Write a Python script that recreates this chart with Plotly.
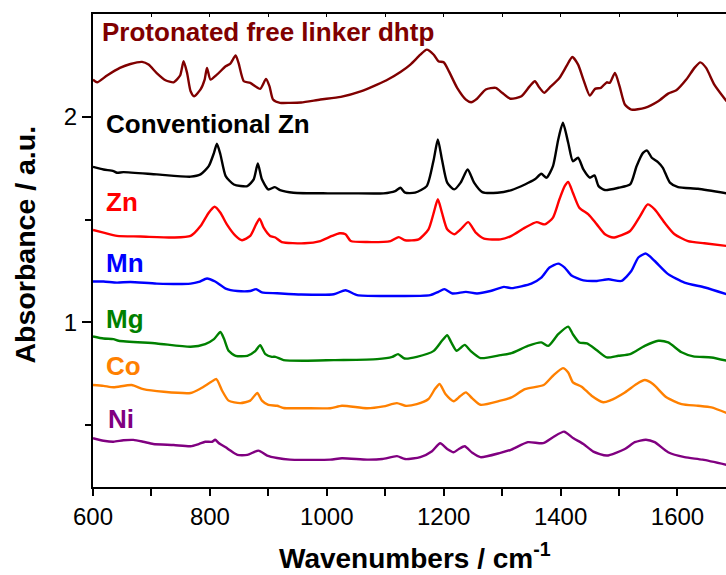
import plotly.graph_objects as go

# ---------------- data (wavenumber cm^-1, absorbance a.u.) ----------------
prot_wn = [600, 607, 624, 646, 664, 684, 695, 709, 724, 738, 749, 755, 761, 767, 773, 784, 791, 795, 801, 812,
           827, 835, 844, 849, 858, 869, 886, 896, 902, 908, 920, 937, 956, 989, 1024, 1058, 1086, 1106, 1126,
           1143, 1160, 1171, 1183, 1191, 1200, 1209, 1223, 1238, 1247, 1257, 1272, 1289, 1300, 1314, 1333, 1347,
           1356, 1364, 1372, 1381, 1398, 1410, 1420, 1430, 1439, 1450, 1459, 1469, 1479, 1484, 1493, 1501, 1510,
           1521, 1544, 1567, 1584, 1598, 1615, 1629, 1639, 1649, 1663, 1684]
prot_a = [2.181, 2.168, 2.201, 2.238, 2.257, 2.267, 2.254, 2.213, 2.178, 2.168, 2.201, 2.270, 2.213, 2.124, 2.100,
          2.133, 2.181, 2.238, 2.181, 2.205, 2.246, 2.259, 2.298, 2.262, 2.173, 2.165, 2.136, 2.184, 2.148, 2.084,
          2.068, 2.068, 2.070, 2.084, 2.097, 2.124, 2.157, 2.184, 2.218, 2.254, 2.302, 2.327, 2.302, 2.270, 2.265,
          2.221, 2.141, 2.084, 2.071, 2.088, 2.133, 2.141, 2.117, 2.088, 2.100, 2.148, 2.173, 2.141, 2.117, 2.141,
          2.189, 2.246, 2.291, 2.254, 2.181, 2.103, 2.136, 2.141, 2.168, 2.165, 2.213, 2.148, 2.060, 2.035, 2.044,
          2.076, 2.113, 2.129, 2.181, 2.238, 2.265, 2.238, 2.157, 2.076]

conv_wn = [600, 618, 635, 641, 652, 709, 767, 784, 798, 807, 812, 818, 827, 841, 864, 875, 882, 889, 900, 911,
           920, 943, 1002, 1041, 1097, 1117, 1126, 1134, 1151, 1171, 1183, 1190, 1197, 1206, 1218, 1229, 1241,
           1252, 1266, 1292, 1316, 1339, 1356, 1367, 1376, 1387, 1396, 1404, 1413, 1421, 1430, 1439, 1450, 1458,
           1465, 1476, 1499, 1519, 1530, 1541, 1548, 1556, 1567, 1575, 1587, 1601, 1635, 1684]
conv_a = [1.757, 1.744, 1.736, 1.728, 1.731, 1.720, 1.709, 1.720, 1.760, 1.825, 1.869, 1.817, 1.712, 1.671, 1.663,
          1.696, 1.773, 1.696, 1.647, 1.658, 1.644, 1.631, 1.628, 1.628, 1.628, 1.639, 1.655, 1.631, 1.631, 1.663,
          1.793, 1.890, 1.793, 1.680, 1.647, 1.680, 1.744, 1.680, 1.634, 1.631, 1.644, 1.671, 1.696, 1.723, 1.704,
          1.760, 1.890, 1.971, 1.874, 1.784, 1.801, 1.744, 1.704, 1.715, 1.663, 1.644, 1.655, 1.671, 1.760, 1.825,
          1.836, 1.801, 1.779, 1.752, 1.680, 1.658, 1.650, 1.628]

zn_wn = [600, 618, 641, 681, 738, 767, 784, 798, 808, 818, 829, 844, 855, 869, 879, 885, 892, 903, 912, 923, 962,
         989, 1009, 1022, 1032, 1041, 1069, 1109, 1123, 1134, 1157, 1174, 1183, 1190, 1197, 1206, 1218, 1229, 1242,
         1255, 1269, 1297, 1316, 1339, 1359, 1373, 1387, 1398, 1407, 1413, 1421, 1432, 1448, 1462, 1476, 1490,
         1519, 1536, 1549, 1561, 1578, 1595, 1618, 1646, 1684]
zn_a = [1.450, 1.437, 1.421, 1.418, 1.413, 1.421, 1.469, 1.534, 1.563, 1.534, 1.477, 1.421, 1.400, 1.421, 1.477,
        1.505, 1.461, 1.421, 1.413, 1.391, 1.385, 1.396, 1.421, 1.434, 1.429, 1.396, 1.391, 1.396, 1.415, 1.400,
        1.404, 1.453, 1.534, 1.599, 1.534, 1.453, 1.429, 1.453, 1.488, 1.437, 1.408, 1.404, 1.421, 1.461, 1.488,
        1.477, 1.510, 1.599, 1.663, 1.683, 1.631, 1.558, 1.525, 1.477, 1.429, 1.413, 1.445, 1.517, 1.574, 1.550,
        1.485, 1.429, 1.396, 1.385, 1.372]

mn_wn = [600, 618, 641, 664, 709, 767, 781, 795, 809, 827, 847, 869, 879, 889, 915, 956, 1012, 1032, 1052, 1097,
         1177, 1191, 1201, 1215, 1238, 1257, 1280, 1303, 1316, 1350, 1367, 1381, 1396, 1407, 1418, 1439, 1462,
         1482, 1504, 1521, 1533, 1546, 1561, 1584, 1612, 1647, 1684]
mn_a = [1.199, 1.199, 1.194, 1.197, 1.189, 1.189, 1.197, 1.214, 1.199, 1.165, 1.153, 1.153, 1.162, 1.146, 1.142,
        1.136, 1.137, 1.157, 1.133, 1.129, 1.133, 1.149, 1.162, 1.141, 1.149, 1.141, 1.153, 1.173, 1.167, 1.189,
        1.218, 1.267, 1.286, 1.267, 1.230, 1.205, 1.202, 1.210, 1.202, 1.250, 1.316, 1.335, 1.299, 1.235, 1.194,
        1.170, 1.137]

mg_wn = [600, 618, 635, 644, 709, 767, 792, 807, 818, 824, 832, 844, 864, 878, 886, 895, 906, 912, 926, 962, 1012,
         1086, 1112, 1122, 1133, 1154, 1183, 1197, 1206, 1213, 1222, 1228, 1236, 1246, 1263, 1297, 1316, 1344,
         1367, 1379, 1396, 1413, 1421, 1432, 1445, 1462, 1479, 1499, 1519, 1544, 1567, 1584, 1607, 1627, 1658,
         1684]
mg_a = [0.932, 0.922, 0.919, 0.911, 0.898, 0.882, 0.895, 0.919, 0.954, 0.922, 0.862, 0.838, 0.838, 0.862, 0.890,
        0.846, 0.833, 0.833, 0.817, 0.814, 0.817, 0.822, 0.833, 0.846, 0.825, 0.833, 0.862, 0.911, 0.938, 0.903,
        0.862, 0.874, 0.891, 0.862, 0.827, 0.841, 0.851, 0.886, 0.903, 0.886, 0.943, 0.980, 0.943, 0.903, 0.898,
        0.865, 0.830, 0.838, 0.846, 0.886, 0.911, 0.903, 0.855, 0.835, 0.830, 0.814]

co_wn = [600, 618, 635, 666, 686, 721, 767, 784, 801, 811, 821, 832, 852, 869, 881, 889, 900, 915, 926, 962, 1006,
         1026, 1069, 1097, 1120, 1134, 1154, 1174, 1185, 1193, 1203, 1217, 1228, 1238, 1249, 1263, 1297, 1316,
         1339, 1371, 1387, 1404, 1413, 1421, 1436, 1453, 1473, 1484, 1510, 1530, 1544, 1558, 1581, 1607, 1635,
         1658, 1684]
co_a = [0.696, 0.692, 0.685, 0.696, 0.676, 0.663, 0.657, 0.679, 0.709, 0.725, 0.668, 0.620, 0.608, 0.620, 0.657,
        0.620, 0.599, 0.595, 0.584, 0.583, 0.583, 0.595, 0.583, 0.592, 0.608, 0.595, 0.603, 0.628, 0.676, 0.701,
        0.652, 0.617, 0.641, 0.660, 0.631, 0.600, 0.620, 0.636, 0.676, 0.696, 0.741, 0.778, 0.757, 0.709, 0.688,
        0.644, 0.612, 0.620, 0.660, 0.701, 0.720, 0.701, 0.636, 0.603, 0.595, 0.587, 0.560]

ni_wn = [600, 618, 635, 652, 669, 686, 703, 738, 767, 781, 792, 804, 809, 815, 827, 835, 847, 864, 883, 898, 915,
         937, 962, 1006, 1026, 1069, 1095, 1120, 1134, 1160, 1180, 1194, 1206, 1217, 1226, 1236, 1249, 1263, 1297,
         1316, 1344, 1370, 1387, 1406, 1422, 1439, 1456, 1479, 1510, 1527, 1546, 1561, 1584, 1612, 1643, 1684]
ni_a = [0.437, 0.425, 0.420, 0.427, 0.429, 0.420, 0.409, 0.404, 0.398, 0.409, 0.420, 0.420, 0.430, 0.414, 0.393,
        0.377, 0.356, 0.356, 0.377, 0.353, 0.341, 0.333, 0.332, 0.333, 0.340, 0.333, 0.336, 0.350, 0.336, 0.345,
        0.374, 0.413, 0.385, 0.369, 0.385, 0.398, 0.366, 0.345, 0.366, 0.382, 0.418, 0.413, 0.442, 0.469, 0.437,
        0.409, 0.372, 0.353, 0.385, 0.418, 0.430, 0.418, 0.369, 0.345, 0.333, 0.308]

series_names = ["Protonated free linker dhtp", "Conventional Zn", "Zn", "Mn", "Mg", "Co", "Ni"]
series_colors = ["#800000", "#000000", "#FF0000", "#0000FF", "#008000", "#FF8000", "#800080"]
series_x = [prot_wn, conv_wn, zn_wn, mn_wn, mg_wn, co_wn, ni_wn]
series_y = [prot_a, conv_a, zn_a, mn_a, mg_a, co_a, ni_a]
# label anchor (wavenumber, absorbance) for each series name
label_x = [612, 619, 619, 619, 618, 619, 622]
label_y = [2.414, 1.963, 1.584, 1.290, 1.016, 0.790, 0.531]

x_tick_vals = [600, 800, 1000, 1200, 1400, 1600]
x_minor_vals = [700, 900, 1100, 1300, 1500]
y_tick_vals = [1, 2]
y_minor_vals = [0.5, 1.5]

FONT = "Liberation Sans, Arial, sans-serif"

fig = go.Figure()
for name, col, xs, ys in zip(series_names, series_colors, series_x, series_y):
    fig.add_trace(go.Scatter(x=xs, y=ys, mode="lines", name=name,
                             line=dict(color=col, width=2.4, shape="spline", smoothing=0.6),
                             showlegend=False, hoverinfo="skip"))

# invisible trace that carries the top axis (inward ticks on the top frame)
fig.add_trace(go.Scatter(x=[600], y=[1], xaxis="x2", mode="markers",
                         marker=dict(opacity=0), showlegend=False, hoverinfo="skip"))

for name, col, lx, ly in zip(series_names, series_colors, label_x, label_y):
    fig.add_annotation(x=lx, y=ly, xref="x", yref="y", text="<b>%s</b>" % name,
                       showarrow=False, xanchor="left", yanchor="middle",
                       font=dict(family=FONT, size=26, color=col))

fig.add_annotation(x=0.509, y=-0.145, xref="paper", yref="paper",
                   text="<b>Wavenumbers / cm<sup>-1</sup></b>", showarrow=False,
                   xanchor="center", yanchor="middle",
                   font=dict(family=FONT, size=28, color="black"))
fig.add_annotation(x=-0.108, y=0.512, xref="paper", yref="paper",
                   text="<b>Absorbance / a.u.</b>", showarrow=False, textangle=-90,
                   xanchor="center", yanchor="middle",
                   font=dict(family=FONT, size=28.5, color="black"))

fig.update_layout(
    width=726, height=575,
    margin=dict(l=93, r=0, t=14, b=88, autoexpand=False),
    paper_bgcolor="white", plot_bgcolor="white",
    font=dict(family=FONT, color="black"),
    xaxis=dict(range=[600, 1683], tickmode="array", tickvals=x_tick_vals,
               ticktext=[str(v) for v in x_tick_vals],
               ticks="outside", ticklen=7, tickwidth=1.5, tickcolor="black",
               minor=dict(tickvals=x_minor_vals, ticks="outside", ticklen=7,
                          tickwidth=1.5, tickcolor="black"),
               showline=True, linecolor="black", linewidth=2, mirror=True,
               showgrid=False, zeroline=False, automargin=False,
               tickfont=dict(family=FONT, size=24, color="black")),
    xaxis2=dict(range=[600, 1683], overlaying="x", side="top", matches="x",
                tickmode="linear", tick0=0, dtick=100, ticks="inside", ticklen=3,
                tickwidth=1.2, tickcolor="black", showticklabels=False, automargin=False,
                showline=False, showgrid=False, zeroline=False),
    yaxis=dict(range=[0.2, 2.5], tickmode="array", tickvals=y_tick_vals,
               ticktext=[str(v) for v in y_tick_vals],
               ticks="outside", ticklen=9, tickwidth=1.5, tickcolor="black",
               minor=dict(tickvals=y_minor_vals, ticks="outside", ticklen=6, tickwidth=1.5,
                          tickcolor="black"),
               showline=True, linecolor="black", linewidth=2, mirror=False,
               showgrid=False, zeroline=False, automargin=False,
               tickfont=dict(family=FONT, size=24, color="black")),
)

fig.write_html("out.html", config={"displayModeBar": False},
               post_script="document.body.style.margin='0';document.body.style.padding='0';"
                           "document.body.style.overflow='hidden';")
